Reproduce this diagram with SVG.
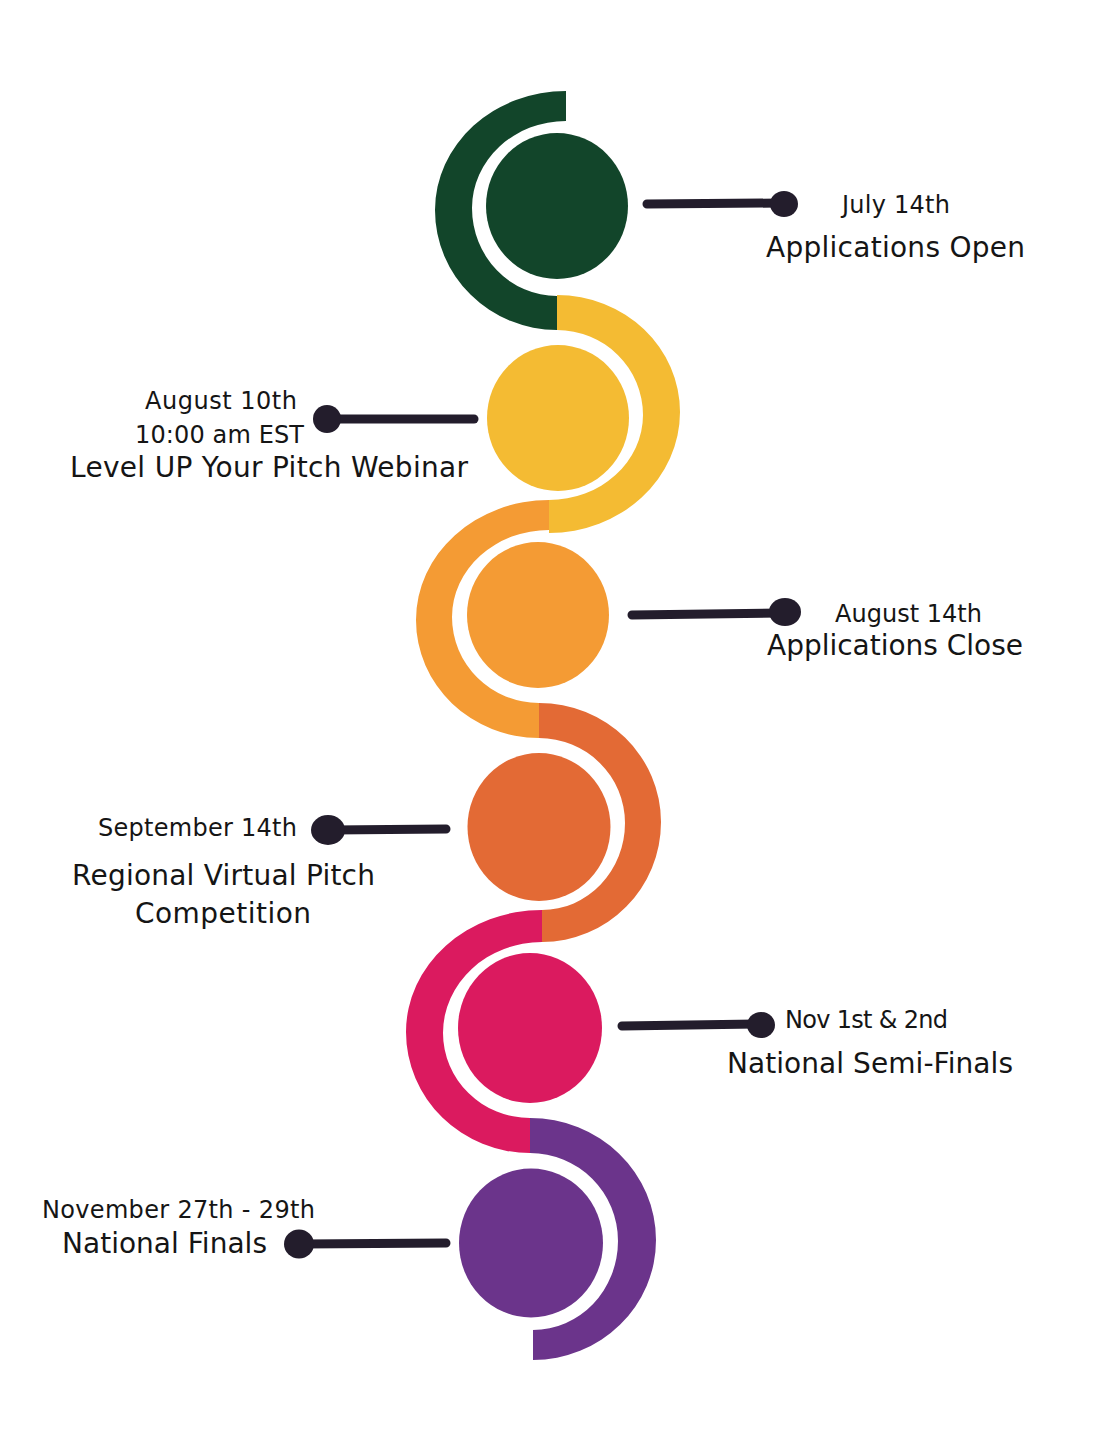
<svg xmlns="http://www.w3.org/2000/svg" width="1112" height="1440" viewBox="0 0 1112 1440">
<style>
.t{font-family:"DejaVu Sans","Open Sans",sans-serif;fill:#151515;}
.s{font-size:24px;}
.l{font-size:28px;}
.c{stroke:#231D2C;stroke-width:9;stroke-linecap:round;fill:none;}
.b{fill:#231D2C;}
</style>
<rect width="1112" height="1440" fill="#ffffff"/>
<g id="node1">
<path d="M566,91 A131 119 0 0 0 435,210 A122 120 0 0 0 557,330 L557,296 A85 88 0 0 1 472,208 A94 87 0 0 1 566,121 Z" fill="#12452A"/>
<ellipse cx="557" cy="206" rx="71" ry="73" fill="#12452A"/>
</g>
<g id="node2">
<path d="M557,295 A123 117 0 0 1 680,412 A131 121 0 0 1 549,533 L549,500 A94 85 0 0 0 643,415 A86 85 0 0 0 557,330 Z" fill="#F4BB33"/>
<ellipse cx="558" cy="418" rx="71" ry="73" fill="#F4BB33"/>
</g>
<g id="node3">
<path d="M549,500 A133 120 0 0 0 416,620 A123 118 0 0 0 539,738 L539,703 A87 86 0 0 1 452,617 A97 87 0 0 1 549,530 Z" fill="#F49B34"/>
<ellipse cx="538" cy="615" rx="71" ry="73" fill="#F49B34"/>
</g>
<g id="node4">
<path d="M539,703 A122 119 0 0 1 661,822 A119 120 0 0 1 542,942 L542,910 A83 87 0 0 0 625,823 A86 85 0 0 0 539,738 Z" fill="#E36A35"/>
<ellipse cx="539" cy="827" rx="71.5" ry="74" fill="#E36A35"/>
</g>
<g id="node5">
<path d="M542,910 A136 122 0 0 0 406,1032 A124 121 0 0 0 530,1153 L530,1118 A87 85 0 0 1 443,1033 A99 91 0 0 1 542,942 Z" fill="#DB1A5F"/>
<ellipse cx="530" cy="1028" rx="72" ry="75" fill="#DB1A5F"/>
</g>
<g id="node6">
<path d="M530,1118 A126 122 0 0 1 656,1240 A123 120 0 0 1 533,1360 L533,1330 A85 89 0 0 0 618,1241 A88 88 0 0 0 530,1153 Z" fill="#6B348B"/>
<ellipse cx="531" cy="1243" rx="72" ry="74.5" fill="#6B348B"/>
</g>
<g id="connectors">
<line class="c" x1="647" y1="204" x2="780" y2="203"/>
<ellipse class="b" cx="784" cy="204" rx="14" ry="13"/>
<line class="c" x1="330" y1="419" x2="474" y2="419"/>
<ellipse class="b" cx="327" cy="419" rx="14" ry="14"/>
<line class="c" x1="632" y1="615" x2="780" y2="613"/>
<ellipse class="b" cx="785" cy="612" rx="16" ry="14"/>
<line class="c" x1="332" y1="830" x2="446" y2="829"/>
<ellipse class="b" cx="328" cy="830" rx="17" ry="15"/>
<line class="c" x1="622" y1="1026" x2="756" y2="1024"/>
<ellipse class="b" cx="761" cy="1025" rx="14" ry="13"/>
<line class="c" x1="303" y1="1244" x2="446" y2="1243"/>
<ellipse class="b" cx="299" cy="1244" rx="15" ry="14.5"/>
</g>
<g id="labels">
<text class="t s" x="842" y="213" textLength="108">July 14th</text>
<text class="t l" x="766" y="257" textLength="259">Applications Open</text>
<text class="t s" x="145" y="409" textLength="152">August 10th</text>
<text class="t s" x="135" y="443" textLength="169">10:00 am EST</text>
<text class="t l" x="70" y="477" textLength="398">Level UP Your Pitch Webinar</text>
<text class="t s" x="835" y="622" textLength="147">August 14th</text>
<text class="t l" x="767" y="655" textLength="256">Applications Close</text>
<text class="t s" x="98" y="836" textLength="199">September 14th</text>
<text class="t l" x="72" y="885" textLength="303">Regional Virtual Pitch</text>
<text class="t l" x="135" y="923" textLength="176">Competition</text>
<text class="t s" x="785" y="1028" textLength="163">Nov 1st &amp; 2nd</text>
<text class="t l" x="727" y="1073" textLength="286">National Semi-Finals</text>
<text class="t s" x="42" y="1218" textLength="273">November 27th - 29th</text>
<text class="t l" x="62" y="1253" textLength="205">National Finals</text>
</g>
</svg>
